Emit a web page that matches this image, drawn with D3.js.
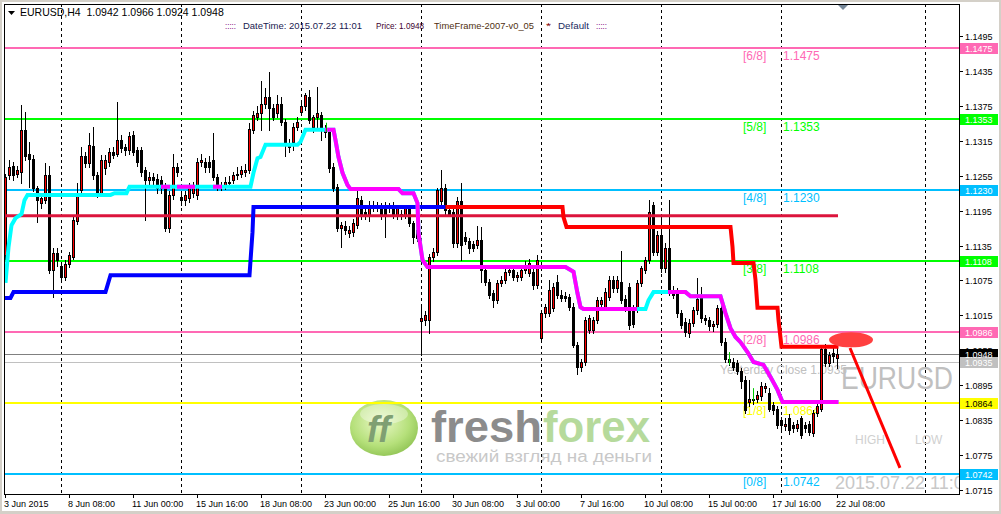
<!DOCTYPE html>
<html lang="en">
<head>
<meta charset="UTF-8" />
<title>EURUSD H4</title>
<script src="https://d3js.org/d3.v7.min.js"></script>
<style>
  html, body { margin: 0; padding: 0; background: #fff; }
  svg { display: block; font-family: "Liberation Sans", Arial, sans-serif; }
  text { white-space: pre; }
</style>
</head>
<body>
<svg id="chart" width="1001" height="514"></svg>
<script>
// ---- data (H4 bars, 3 Jun 16:00 .. 22 Jul 08:00) ----
const opens = [
  1.1119,1.1256,1.1272,1.1258,1.1262,1.1334,1.1292,1.1284,1.1233,1.1208, // 0
  1.1213,1.1256,1.1093,1.1123,1.1100,1.1081,1.1103,1.1116,1.1178,1.1230, // 10
  1.1288,1.1276,1.1306,1.1256,1.1225,1.1268,1.1279,1.1296,1.1293,1.1316, // 20
  1.1304,1.1299,1.1325,1.1299,1.1299,1.1265,1.1248,1.1253,1.1250,1.1248, // 30
  1.1236,1.1165,1.1222,1.1270,1.1219,1.1213,1.1216,1.1225,1.1222,1.1279, // 40
  1.1279,1.1279,1.1282,1.1253,1.1236,1.1238,1.1242,1.1248,1.1256,1.1258, // 50
  1.1262,1.1265,1.1334,1.1356,1.1362,1.1379,1.1391,1.1371,1.1362,1.1379, // 60
  1.1348,1.1311,1.1313,1.1339,1.1365,1.1374,1.1391,1.1339,1.1356,1.1359, // 70
  1.1334,1.1330,1.1270,1.1236,1.1165,1.1168,1.1157,1.1159,1.1170,1.1213, // 80
  1.1192,1.1185,1.1205,1.1200,1.1202,1.1203,1.1200,1.1205,1.1185,1.1190, // 90
  1.1188,1.1199,1.1173,1.1148,1.1005,1.1007,1.1007,1.1116,1.1124,1.1211, // 100
  1.1233,1.1196,1.1193,1.1139,1.1211,1.1150,1.1142,1.1137,1.1136,1.1145, // 110
  1.1093,1.1073,1.1053,1.1041,1.1070,1.1076,1.1090,1.1093,1.1081,1.1081, // 120
  1.1093,1.1088,1.1090,1.1067,1.0976,1.1019,1.1019,1.1028,1.1073,1.1050, // 130
  1.1048,1.1047,1.1030,1.0964,1.0927,1.0935,1.0990,1.0990,1.1007,1.1035, // 140
  1.1030,1.1047,1.1076,1.1062,1.1073,1.1044,1.1064,1.1027,1.1027,1.1070, // 150
  1.1093,1.1110,1.1204,1.1124,1.1153,1.1096,1.1130,1.1056,1.1056,1.1019, // 160
  1.1004,1.0985,1.1002,1.1024,1.1047,1.1010,1.1007,1.0996,1.1001,1.1027, // 170
  1.0970,1.0940,1.0935,1.0933,1.0919,1.0904,1.0867,1.0872,1.0872,1.0876, // 180
  1.0890,1.0881,1.0861,1.0855,1.0835,1.0825,1.0838,1.0826,1.0821,1.0838, // 190
  1.0826,1.0828,1.0813,1.0847,1.0855,1.0958,1.0933,1.0950,1.0942         // 200
];
const highs = [
  1.1258,1.1282,1.1278,1.1272,1.1376,1.1365,1.1313,1.1290,1.1238,1.1222,
  1.1276,1.1272,1.1130,1.1130,1.1106,1.1110,1.1124,1.1185,1.1242,1.1304,
  1.1295,1.1328,1.1339,1.1262,1.1290,1.1290,1.1302,1.1305,1.1382,1.1325,
  1.1310,1.1330,1.1332,1.1305,1.1305,1.1270,1.1262,1.1260,1.1258,1.1255,
  1.1242,1.1228,1.1293,1.1276,1.1228,1.1228,1.1242,1.1245,1.1285,1.1292,
  1.1285,1.1288,1.1328,1.1258,1.1245,1.1252,1.1255,1.1262,1.1270,1.1272,
  1.1275,1.1345,1.1367,1.1374,1.1417,1.1406,1.1434,1.1378,1.1394,1.1390,
  1.1352,1.1318,1.1345,1.1356,1.1380,1.1397,1.1402,1.1360,1.1408,1.1365,
  1.1342,1.1336,1.1276,1.1240,1.1176,1.1178,1.1168,1.1180,1.1230,1.1220,
  1.1200,1.1212,1.1212,1.1210,1.1208,1.1210,1.1208,1.1210,1.1205,1.1196,
  1.1204,1.1205,1.1178,1.1168,1.1033,1.1022,1.1120,1.1130,1.1234,1.1265,
  1.1240,1.1202,1.1200,1.1218,1.1242,1.1158,1.1148,1.1142,1.1169,1.1167,
  1.1098,1.1078,1.1058,1.1076,1.1082,1.1096,1.1100,1.1100,1.1090,1.1100,
  1.1108,1.1112,1.1098,1.1118,1.1025,1.1035,1.1076,1.1070,1.1085,1.1058,
  1.1055,1.1052,1.1036,1.0970,1.0940,1.1012,1.1015,1.1012,1.1047,1.1047,
  1.1062,1.1082,1.1082,1.1082,1.1125,1.1050,1.1070,1.1032,1.1076,1.1100,
  1.1115,1.1213,1.1210,1.1160,1.1185,1.1140,1.1213,1.1065,1.1062,1.1025,
  1.1010,1.1008,1.1030,1.1079,1.1064,1.1016,1.1012,1.1006,1.1033,1.1032,
  1.0976,1.0950,1.0942,1.0938,1.0924,1.0910,1.0904,1.0880,1.0885,1.0900,
  1.0898,1.0890,1.0866,1.0860,1.0840,1.0838,1.0845,1.0832,1.0835,1.0842,
  1.0832,1.0834,1.0852,1.0865,1.0962,1.0966,1.0952,1.0960,1.0966
];
const lows = [
  1.1112,1.1250,1.1248,1.1252,1.1242,1.1282,1.1236,1.1228,1.1176,1.1200,
  1.1208,1.1088,1.1047,1.1100,1.1075,1.1076,1.1098,1.1112,1.1172,1.1225,
  1.1270,1.1270,1.1250,1.1218,1.1220,1.1258,1.1272,1.1285,1.1288,1.1295,
  1.1290,1.1292,1.1290,1.1272,1.1255,1.1179,1.1240,1.1240,1.1225,1.1226,
  1.1160,1.1158,1.1215,1.1255,1.1205,1.1205,1.1210,1.1218,1.1215,1.1272,
  1.1262,1.1262,1.1248,1.1230,1.1230,1.1232,1.1236,1.1242,1.1250,1.1252,
  1.1255,1.1260,1.1328,1.1350,1.1334,1.1372,1.1334,1.1350,1.1356,1.1342,
  1.1288,1.1296,1.1299,1.1334,1.1360,1.1368,1.1345,1.1330,1.1334,1.1316,
  1.1322,1.1262,1.1228,1.1160,1.1133,1.1155,1.1150,1.1152,1.1165,1.1180,
  1.1180,1.1178,1.1195,1.1195,1.1180,1.1150,1.1192,1.1183,1.1180,1.1180,
  1.1182,1.1168,1.1140,1.1142,1.0947,1.0998,1.0985,1.1108,1.1118,1.1205,
  1.1190,1.1185,1.1132,1.1132,1.1110,1.1138,1.1122,1.1125,1.1130,1.1073,
  1.1068,1.1045,1.1030,1.1036,1.1065,1.1070,1.1084,1.1076,1.1074,1.1076,
  1.1088,1.1082,1.1060,1.1062,1.0970,1.1012,1.1014,1.1022,1.1045,1.1040,
  1.1040,1.1025,1.0960,1.0915,1.0920,1.0930,1.0985,1.0985,1.1002,1.1030,
  1.1025,1.1042,1.1056,1.1056,1.1036,1.1022,1.0992,1.0995,1.1020,1.1065,
  1.1088,1.1105,1.1118,1.1118,1.1090,1.1090,1.1050,1.1045,1.1012,1.0994,
  1.0980,1.0978,1.0996,1.1018,1.1004,1.1000,1.0990,1.0988,1.0995,1.0964,
  1.0935,1.0930,1.0922,1.0915,1.0890,1.0848,1.0860,1.0862,1.0866,1.0870,
  1.0884,1.0850,1.0845,1.0822,1.0820,1.0818,1.0812,1.0815,1.0816,1.0805,
  1.0815,1.0810,1.0808,1.0842,1.0850,1.0928,1.0928,1.0935,1.0924
];
const closes = [
  1.1253,1.1270,1.1256,1.1265,1.1334,1.1288,1.1284,1.1233,1.1213,1.1216,
  1.1256,1.1093,1.1122,1.1111,1.1081,1.1104,1.1119,1.1179,1.1222,1.1289,
  1.1277,1.1308,1.1256,1.1225,1.1282,1.1282,1.1296,1.1291,1.1316,1.1302,
  1.1299,1.1323,1.1296,1.1279,1.1262,1.1248,1.1253,1.1248,1.1233,1.1233,
  1.1165,1.1222,1.1270,1.1262,1.1213,1.1222,1.1236,1.1239,1.1279,1.1282,
  1.1270,1.1270,1.1253,1.1236,1.1239,1.1245,1.1245,1.1256,1.1258,1.1265,
  1.1265,1.1336,1.1359,1.1362,1.1379,1.1391,1.1371,1.1356,1.1379,1.1348,
  1.1311,1.1305,1.1339,1.1348,1.1374,1.1394,1.1351,1.1356,1.1362,1.1334,
  1.1330,1.1268,1.1233,1.1165,1.1170,1.1162,1.1162,1.1173,1.1216,1.1185,
  1.1188,1.1205,1.1202,1.1203,1.1185,1.1185,1.1202,1.1188,1.1199,1.1185,
  1.1199,1.1173,1.1150,1.1162,1.1010,1.1016,1.1116,1.1124,1.1230,1.1233,
  1.1196,1.1190,1.1139,1.1211,1.1136,1.1142,1.1130,1.1130,1.1145,1.1093,
  1.1073,1.1050,1.1041,1.1070,1.1076,1.1090,1.1093,1.1081,1.1084,1.1093,
  1.1102,1.1105,1.1067,1.1110,1.1019,1.1030,1.1059,1.1064,1.1050,1.1045,
  1.1045,1.1030,1.0964,1.0927,1.0935,1.1007,1.1010,1.1007,1.1041,1.1041,
  1.1056,1.1076,1.1062,1.1076,1.1041,1.1027,1.0998,1.1001,1.1070,1.1096,
  1.1110,1.1193,1.1124,1.1153,1.1096,1.1130,1.1056,1.1050,1.1019,1.0999,
  1.0987,1.1002,1.1024,1.1044,1.1010,1.1007,1.0996,1.1001,1.1027,1.0970,
  1.0940,1.0935,1.0927,1.0919,1.0902,1.0852,1.0872,1.0870,1.0878,1.0893,
  1.0893,1.0855,1.0852,1.0827,1.0827,1.0828,1.0818,1.0821,1.0828,1.0810,
  1.0821,1.0814,1.0847,1.0859,1.0958,1.0933,1.0947,1.0945,1.0948
];

const timeBars = [0, 16, 32, 48, 64, 80, 96, 112, 128, 144, 160, 176, 192, 208];
const timeLabels = ["3 Jun 2015", "8 Jun 08:00", "11 Jun 00:00", "15 Jun 16:00",
  "18 Jun 08:00", "23 Jun 00:00", "25 Jun 16:00", "30 Jun 08:00", "3 Jul 00:00",
  "7 Jul 16:00", "10 Jul 08:00", "15 Jul 00:00", "17 Jul 16:00", "22 Jul 08:00"];
const gridBars = [14, 44, 74, 104, 134, 164, 194, 230];

const priceTicks = [1.1495, 1.1435, 1.1375, 1.1315, 1.1255, 1.1195, 1.1135,
  1.1075, 1.1015, 1.0955, 1.0895, 1.0835, 1.0775, 1.0715];

// Murrey math levels
const mmNames = ["[6/8]", "[5/8]", "[4/8]", "[3/8]", "[2/8]", "[1/8]", "[0/8]"];
const mmLevels = [1.1475, 1.1353, 1.1230, 1.1108, 1.0986, 1.0864, 1.0742];

const pivotLevel = 1.1186;
const bidPrice = 1.0948;
const yesterdayClose = 1.0935;

// trailing stop lines: [bar, price]
const upStop = [[-0.25, 1.1045], [1.25, 1.1045], [2, 1.1055], [25, 1.1055], [26.25, 1.1084],
  [61, 1.1084], [61.75, 1.1158], [62, 1.1201], [110, 1.1201]];
const downStop = [[110, 1.1201], [139.25, 1.1201], [139.5, 1.1184], [140.25, 1.1167],
  [181.25, 1.1167], [181.75, 1.1133], [182, 1.1105], [187, 1.1105], [187.5, 1.1076],
  [188, 1.1028], [193, 1.1028], [193.25, 1.1007], [194, 1.0961], [208.25, 1.0961]];

// trend line (cyan while rising, magenta while falling)
const trendLine = [[0, 1.1071], [0.75, 1.1132], [1.5, 1.1170], [2.5, 1.1182], [4, 1.1189],
  [4.75, 1.1213], [5.5, 1.1222], [26.25, 1.1222], [27.25, 1.1225], [30.25, 1.1225],
  [31, 1.1236], [61.25, 1.1236], [62, 1.1260], [63, 1.1285], [63.75, 1.1287], [65, 1.1308],
  [73, 1.1308], [73.75, 1.1313], [75, 1.1334], [82, 1.1334], [82.5, 1.1316], [83.25, 1.1287],
  [84.25, 1.1260], [85.5, 1.1239], [86.25, 1.1232], [98.25, 1.1232], [99.25, 1.1225],
  [102, 1.1225], [103, 1.1208], [103.25, 1.1157], [104.25, 1.1110], [105.5, 1.1098],
  [140, 1.1098], [142, 1.1090], [143, 1.1053], [143.75, 1.1029], [144.5, 1.1026],
  [160, 1.1026], [160.75, 1.1041], [162, 1.1055], [170, 1.1055], [171.25, 1.1048],
  [178.75, 1.1048], [180, 1.1019], [181.25, 1.0993], [182.5, 1.0978], [183.75, 1.0969],
  [185.5, 1.0952], [187, 1.0935], [189.5, 1.0930], [191.25, 1.0909], [193, 1.0887],
  [194.25, 1.0866], [208.25, 1.0866]];
const trendDownSpans = [[39, 41.25], [43, 47.5], [52, 54.25], [80, 158], [165.75, 208.5]];

// small green signal arrows: [bar, from, to]
const signals = [[80.25, 1.1330, 1.1346], [181, 1.0930, 1.0952], [187, 1.0869, 1.0890]];

// drawn objects
const markEllipse = [211.5, 1.0973];
const markArrow = [[211.25, 1.0959], [223.75, 1.0753]];

// ---- layout ----
const width = 1001, height = 514;
const plot = { left: 4, top: 4, right: 959, bottom: 494 };

const x = d3.scaleLinear().domain([0, 208]).range([5, 837]);
const y = d3.scaleLinear().domain([1.0715, 1.1495]).range([490, 36]);
const fmt = d3.format(".4f");

const mmColors = {
  "[6/8]": "#ff69b4", "[5/8]": "#00ff00", "[4/8]": "#00bfff", "[3/8]": "#00ff00",
  "[2/8]": "#ff69b4", "[1/8]": "#ffff00", "[0/8]": "#00bfff"
};

const svg = d3.select("#chart");

// window frame
svg.append("rect").attr("width", width).attr("height", height).attr("fill", "#d4d0c8");
svg.append("rect").attr("x", 2).attr("y", 2).attr("width", width - 4).attr("height", height - 5)
  .attr("fill", "#fff");

const defs = svg.append("defs");
defs.append("clipPath").attr("id", "plotClip").append("rect")
  .attr("x", plot.left).attr("y", plot.top)
  .attr("width", plot.right - plot.left).attr("height", plot.bottom - plot.top);
const downClip = defs.append("clipPath").attr("id", "downClip");
trendDownSpans.forEach(s => {
  downClip.append("rect").attr("x", x(s[0])).attr("y", 0)
    .attr("width", x(s[1]) - x(s[0])).attr("height", height);
});
const grad = defs.append("radialGradient").attr("id", "blob")
  .attr("cx", "45%").attr("cy", "40%").attr("r", "60%");
grad.append("stop").attr("offset", "0%").attr("stop-color", "#eaf8c8");
grad.append("stop").attr("offset", "70%").attr("stop-color", "#b5e07a");
grad.append("stop").attr("offset", "100%").attr("stop-color", "#96c85a");

const g = svg.append("g").attr("clip-path", "url(#plotClip)");

// watermark logo
const logo = g.append("g");
logo.append("ellipse").attr("cx", 384).attr("cy", 428).attr("rx", 34).attr("ry", 28)
  .attr("fill", "url(#blob)");
logo.append("ellipse").attr("cx", 384).attr("cy", 414).attr("rx", 24).attr("ry", 10)
  .attr("fill", "#fff").attr("opacity", 0.35);
logo.append("text").attr("x", 367).attr("y", 442).attr("font-size", 36)
  .attr("font-weight", "bold").attr("font-style", "italic")
  .attr("fill", "#7f9f72").text("ff");
logo.append("text").attr("x", 431).attr("y", 442).attr("font-size", 44)
  .attr("font-weight", "bold").attr("fill", "#8c8c8c")
  .attr("textLength", 111).attr("lengthAdjust", "spacingAndGlyphs").text("fresh");
logo.append("text").attr("x", 543).attr("y", 442).attr("font-size", 44)
  .attr("font-weight", "bold").attr("fill", "#b6da9c")
  .attr("textLength", 107).attr("lengthAdjust", "spacingAndGlyphs").text("forex");
logo.append("text").attr("x", 436).attr("y", 462).attr("font-size", 16)
  .attr("fill", "#c8c8c8").attr("textLength", 216).attr("lengthAdjust", "spacingAndGlyphs")
  .text("свежий взгляд на деньги");

// vertical dashed grid
g.selectAll(".vgrid").data(gridBars).enter().append("line")
  .attr("x1", d => Math.round(x(d)) + 0.5).attr("x2", d => Math.round(x(d)) + 0.5)
  .attr("y1", plot.top).attr("y2", plot.bottom)
  .attr("stroke", "#000").attr("stroke-dasharray", "3,3");

// faint texts behind the bars
g.append("text").attr("x", 720).attr("y", 374).attr("font-size", 12)
  .attr("fill", "#c0c0c0").text("Yesterday Close " + fmt(yesterdayClose));
g.append("text").attr("x", 841).attr("y", 389).attr("font-size", 31)
  .attr("fill", "#c0c0c0").attr("textLength", 112).attr("lengthAdjust", "spacingAndGlyphs")
  .text("EURUSD");
g.append("text").attr("x", 855).attr("y", 444).attr("font-size", 12)
  .attr("fill", "#d0d0d0").text("HIGH");
g.append("text").attr("x", 915).attr("y", 444).attr("font-size", 12)
  .attr("fill", "#d0d0d0").text("LOW");
g.append("text").attr("x", 835).attr("y", 489).attr("font-size", 18)
  .attr("fill", "#c8c8c8").text("2015.07.22 11:00");

// murrey levels
g.selectAll(".mm").data(mmLevels).enter().append("line")
  .attr("x1", plot.left).attr("x2", plot.right)
  .attr("y1", d => Math.round(y(d))).attr("y2", d => Math.round(y(d)))
  .attr("stroke", (d, i) => mmColors[mmNames[i]]).attr("stroke-width", 2);
g.selectAll(".mmName").data(mmLevels).enter().append("text")
  .attr("x", x(184.5)).attr("y", d => Math.round(y(d)) + 12).attr("font-size", 12)
  .attr("fill", (d, i) => mmColors[mmNames[i]]).text((d, i) => mmNames[i]);
g.selectAll(".mmVal").data(mmLevels).enter().append("text")
  .attr("x", x(194.5)).attr("y", d => Math.round(y(d)) + 12).attr("font-size", 12)
  .attr("fill", (d, i) => mmColors[mmNames[i]]).text(d => fmt(d));

// bid / yesterday close lines
g.append("line").attr("x1", plot.left).attr("x2", plot.right)
  .attr("y1", Math.round(y(bidPrice)) + 0.5).attr("y2", Math.round(y(bidPrice)) + 0.5)
  .attr("stroke", "#808080");
g.append("line").attr("x1", plot.left).attr("x2", plot.right)
  .attr("y1", Math.round(y(yesterdayClose)) + 0.5).attr("y2", Math.round(y(yesterdayClose)) + 0.5)
  .attr("stroke", "#c0c0c0");

// candles
const bars = d3.range(opens.length);
const cg = g.append("g");
cg.selectAll(".wick").data(bars).enter().append("line")
  .attr("x1", i => Math.round(x(i)) + 0.5).attr("x2", i => Math.round(x(i)) + 0.5)
  .attr("y1", i => Math.round(y(highs[i]))).attr("y2", i => Math.round(y(lows[i])) + 1)
  .attr("stroke", "#000");
cg.selectAll(".body").data(bars).enter().append("rect")
  .attr("x", i => Math.round(x(i)) - 0.5)
  .attr("y", i => Math.round(y(Math.max(opens[i], closes[i]))) + 0.5)
  .attr("width", 2)
  .attr("height", i => Math.max(1, Math.round(y(Math.min(opens[i], closes[i]))) - Math.round(y(Math.max(opens[i], closes[i])))))
  .attr("fill", i => closes[i] >= opens[i] ? "#ff0000" : "#000")
  .attr("stroke", "#000");

// pivot line
g.append("line").attr("x1", plot.left).attr("x2", x(208.25))
  .attr("y1", y(pivotLevel)).attr("y2", y(pivotLevel))
  .attr("stroke", "#dc143c").attr("stroke-width", 3);

const line = d3.line().x(d => x(d[0]) + 0.5).y(d => y(d[1]));
g.append("path").attr("d", line(upStop)).attr("fill", "none")
  .attr("stroke", "#0000ff").attr("stroke-width", 4);
g.append("path").attr("d", line(downStop)).attr("fill", "none")
  .attr("stroke", "#ff0000").attr("stroke-width", 4);
g.append("path").attr("d", line(trendLine)).attr("fill", "none")
  .attr("stroke", "#00ffff").attr("stroke-width", 4);
g.append("g").attr("clip-path", "url(#downClip)").append("path")
  .attr("d", line(trendLine)).attr("fill", "none")
  .attr("stroke", "#ff00ff").attr("stroke-width", 4);

// green signal arrows
g.selectAll(".sig").data(signals).enter().append("line")
  .attr("x1", d => Math.round(x(d[0])) + 0.5).attr("x2", d => Math.round(x(d[0])) + 0.5)
  .attr("y1", d => y(d[2])).attr("y2", d => y(d[1]))
  .attr("stroke", "#00c800");

// drawn objects
g.append("ellipse").attr("cx", x(markEllipse[0])).attr("cy", y(markEllipse[1]))
  .attr("rx", 22).attr("ry", 7.5).attr("fill", "#ff4040");
g.append("line").attr("x1", x(markArrow[0][0])).attr("y1", y(markArrow[0][1]))
  .attr("x2", x(markArrow[1][0])).attr("y2", y(markArrow[1][1]))
  .attr("stroke", "#ff0000").attr("stroke-width", 3);

// chart shift marker
svg.append("path").attr("d", "M838,5 L848,5 L843,10 Z").attr("fill", "#778899");

// plot frame
svg.append("rect").attr("x", plot.left + 0.5).attr("y", plot.top + 0.5)
  .attr("width", plot.right - plot.left).attr("height", plot.bottom - plot.top)
  .attr("fill", "none").attr("stroke", "#000");

// price axis
const pa = svg.append("g").attr("font-size", 9);
pa.selectAll(".ptick").data(priceTicks).enter().append("line")
  .attr("x1", plot.right).attr("x2", plot.right + 4)
  .attr("y1", d => Math.round(y(d)) + 0.5).attr("y2", d => Math.round(y(d)) + 0.5)
  .attr("stroke", "#000");
pa.selectAll(".plab").data(priceTicks).enter().append("text")
  .attr("x", plot.right + 6).attr("y", d => Math.round(y(d)) + 4)
  .attr("fill", "#000").text(d => fmt(d));

const boxes = mmLevels.map((d, i) => ({ p: d, bg: mmColors[mmNames[i]], fg: mmNames[i] === "[1/8]" ? "#000" : "#fff" }))
  .concat([{ p: bidPrice, bg: "#000", fg: "#fff" }, { p: yesterdayClose, bg: "#c0c0c0", fg: "#fff" }]);
pa.selectAll(".pbox").data(boxes).enter().append("rect")
  .attr("x", plot.right + 1).attr("y", d => Math.round(y(d.p)) - 5)
  .attr("width", 38).attr("height", 11).attr("fill", d => d.bg);
pa.selectAll(".pboxt").data(boxes).enter().append("text")
  .attr("x", plot.right + 6).attr("y", d => Math.round(y(d.p)) + 4)
  .attr("fill", d => d.fg).text(d => fmt(d.p));

// time axis
const ta = svg.append("g").attr("font-size", 9);
ta.selectAll(".ttick").data(timeBars).enter().append("line")
  .attr("x1", d => Math.round(x(d)) + 0.5).attr("x2", d => Math.round(x(d)) + 0.5)
  .attr("y1", plot.bottom).attr("y2", plot.bottom + 4).attr("stroke", "#000");
ta.selectAll(".tlab").data(timeBars).enter().append("text")
  .attr("x", d => Math.round(x(d)) - 1).attr("y", plot.bottom + 13)
  .attr("fill", "#000").text((d, i) => timeLabels[i]);

// header
svg.append("path").attr("d", "M8,11 L15,11 L11.5,15 Z").attr("fill", "#000");
svg.append("text").attr("x", 20).attr("y", 16).attr("font-size", 10.5).attr("fill", "#000")
  .text("EURUSD,H4  " + [opens, highs, lows, closes].map(a => fmt(a[a.length - 1])).join(" "));
const info = svg.append("g").attr("font-size", 9.5);
const infoParts = [
  [225, 11, "#800080", ":::::"],
  [243, 119, "#1a1a50", "DateTime: 2015.07.22 11:01"],
  [376, 48, "#400030", "Price: " + fmt(bidPrice)],
  [434, 100, "#503010", "TimeFrame-2007-v0_05"],
  [546, 5, "#800000", "*"],
  [558, 31, "#1a2a60", "Default"],
  [596, 11, "#800080", ":::::"]
];
info.selectAll("text").data(infoParts).enter().append("text")
  .attr("x", d => d[0]).attr("y", 29).attr("fill", d => d[2])
  .attr("textLength", d => d[1]).attr("lengthAdjust", "spacingAndGlyphs")
  .text(d => d[3]);
</script>
</body>
</html>
